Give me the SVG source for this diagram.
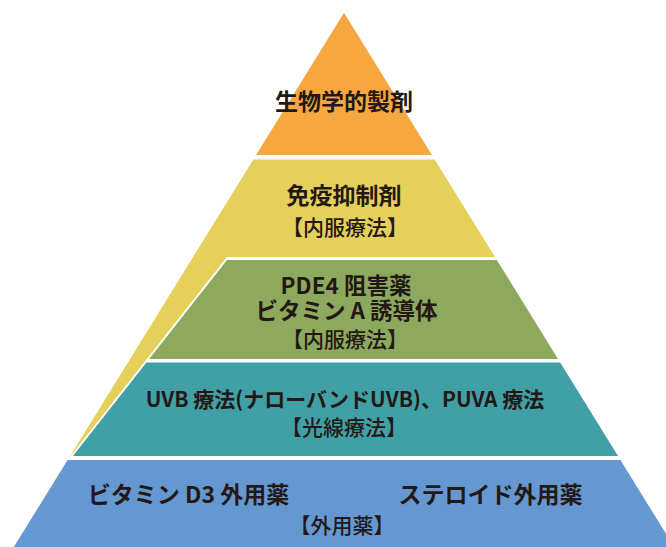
<svg xmlns="http://www.w3.org/2000/svg" width="666" height="547" viewBox="0 0 666 547">
  <style>
    .t { font-family: "Noto Sans CJK JP", "Noto Sans", sans-serif; fill: #231815; text-anchor: middle; }
    .b { font-weight: 700; font-size: 23px; }
    .r { font-weight: 500; font-size: 21px; }
  </style>
  <rect width="666" height="547" fill="#ffffff"/>
  <g id="layer-biologics">
    <polygon points="344,12.7 256.1,155 431.9,155" fill="#F7A740"/>
    <text class="t b" x="344" y="110">生物学的製剤</text>
  </g>
  <g id="layer-immunosuppressants">
    <polygon points="253.3,159.5 434.7,159.5 495,257 226.9,257 68.6,458.4" fill="#E4D05B"/>
    <text class="t b" x="344" y="203.5">免疫抑制剤</text>
    <text class="t r" x="345" y="234.5">【内服療法】</text>
  </g>
  <g id="layer-pde4">
    <polygon points="227,260 496.8,260 558,359 149.2,359" fill="#8CA95D"/>
    <text class="t b" x="346" y="293.5" style="font-size:22.5px">PDE4 阻害薬</text>
    <text class="t b" x="346.5" y="318.5" style="font-size:22.5px">ビタミン A 誘導体</text>
    <text class="t r" x="345" y="347">【内服療法】</text>
  </g>
  <g id="layer-phototherapy">
    <polygon points="146.4,362.5 560.2,362.5 618,456 72.9,456" fill="#41A0A5"/>
    <text class="t b" x="345" y="406.5" style="font-size:21px">UVB 療法(ナローバンドUVB)、PUVA 療法</text>
    <text class="t r" x="344" y="435">【光線療法】</text>
  </g>
  <g id="layer-topical">
    <polygon points="67.6,460 620.4,460 666,533.7 666,547 13.8,547" fill="#6598D0"/>
    <text class="t b" x="188.5" y="503">ビタミン D3 外用薬</text>
    <text class="t b" x="490.5" y="503">ステロイド外用薬</text>
    <text class="t r" x="342" y="533">【外用薬】</text>
  </g>
  <g id="connectors"></g>
</svg>
